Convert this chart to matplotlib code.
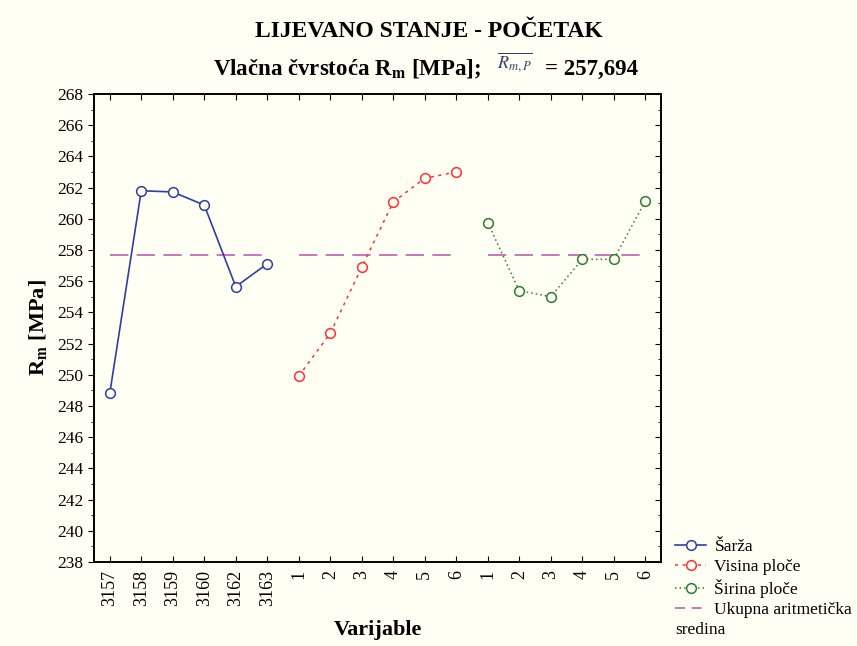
"""Line plot of tensile strength Rm per variable group with the overall mean."""

import matplotlib
matplotlib.use("Agg")
import matplotlib.pyplot as plt
from matplotlib.lines import Line2D
from matplotlib.ticker import MultipleLocator

plt.rcParams["font.family"] = ["Liberation Serif", "DejaVu Serif"]
plt.rcParams["mathtext.fontset"] = "stix"

BG = "#fffff4"
MEAN_COLOR = "#c060b0"

SARZA_LABELS = ["3157", "3158", "3159", "3160", "3162", "3163"]
SARZA = [248.81, 261.80, 261.72, 260.88, 255.65, 257.12]

VISINA_LABELS = ["1", "2", "3", "4", "5", "6"]
VISINA = [249.92, 252.66, 256.90, 261.08, 262.60, 263.00]

SIRINA_LABELS = ["1", "2", "3", "4", "5", "6"]
SIRINA = [259.75, 255.39, 255.01, 257.40, 257.40, 261.14]

GRAND_MEAN = 257.694

groups = [
    ("Šarža", SARZA_LABELS, SARZA, "#2f3fa0", "-", 1.2),
    ("Visina ploče", VISINA_LABELS, VISINA, "#ff3030", (0, (2, 3)), 1.1),
    ("Širina ploče", SIRINA_LABELS, SIRINA, "#2e7d32", (0, (1, 2)), 1.1),
]

fig = plt.figure(figsize=(8.57, 6.46), dpi=100, facecolor=BG)
ax = fig.add_axes([0.1097, 0.130, 0.6616, 0.7245], facecolor=BG)

tick_labels = []
handles = []
start = 0
for name, labels, values, color, ls, lw in groups:
    xs = list(range(start, start + len(values)))
    h, = ax.plot(xs, values, color=color, linestyle=ls, linewidth=lw,
                 marker="o", markersize=7, markerfacecolor=BG,
                 markeredgecolor=color, markeredgewidth=1.1, zorder=3)
    handles.append(h)
    ax.plot([xs[0], xs[-1]], [GRAND_MEAN, GRAND_MEAN], color=MEAN_COLOR,
            linestyle=(0, (11, 5)), linewidth=1.2, zorder=2)
    tick_labels += labels
    start += len(values)

# shorter dashes so the legend sample shows two of them
handles.append(Line2D([], [], color=MEAN_COLOR, linestyle=(0, (6, 4)), linewidth=1.2))

ax.set_xlim(-0.5, start - 0.5)
ax.set_ylim(238, 268)
ax.set_xticks(range(start))
ax.set_xticklabels(tick_labels, rotation=90, fontsize=13)
ax.yaxis.set_major_locator(MultipleLocator(2))
ax.yaxis.set_minor_locator(MultipleLocator(1))
ax.tick_params(axis="y", which="major", direction="out", length=4, labelsize=12.5)
ax.tick_params(axis="y", which="minor", direction="out", length=2)
ax.tick_params(axis="x", direction="in", length=4, top=True, pad=6)

# right-hand spine carries inward ticks without labels
rax = ax.twinx()
rax.set_ylim(ax.get_ylim())
rax.yaxis.set_major_locator(MultipleLocator(2))
rax.yaxis.set_minor_locator(MultipleLocator(1))
rax.tick_params(axis="y", which="major", direction="in", length=4, labelright=False)
rax.tick_params(axis="y", which="minor", direction="in", length=2)

for a in (ax, rax):
    for sp in a.spines.values():
        sp.set_linewidth(1.2)

ax.set_xlabel("Varijable", fontsize=16, fontweight="bold", labelpad=10)
ax.set_ylabel(r"R$_\mathbf{m}$ [MPa]", fontsize=16, fontweight="bold", labelpad=6)

fig.text(0.5, 0.951, "LIJEVANO STANJE - POČETAK", ha="center", va="center",
         fontsize=17, fontweight="bold")

# subtitle assembled from three pieces: label, raised mean symbol, value
sub_y = 0.893
fig.text(213 / 857, sub_y, r"Vlačna čvrstoća R$_\mathbf{m}$ [MPa];",
         ha="left", va="center", fontsize=16.5, fontweight="bold")
fig.text(497 / 857, sub_y + 0.011, r"$\overline{R_{m,P}}$",
         ha="left", va="center", fontsize=13, color="#34406e")
fig.text(545 / 857, sub_y, "= 257,694",
         ha="left", va="center", fontsize=16.5, fontweight="bold")

fig.legend(handles,
           ["Šarža", "Visina ploče", "Širina ploče", "Ukupna aritmetička"],
           loc="upper left", bbox_to_anchor=(0.788, 0.166), frameon=False,
           fontsize=12.5, handlelength=1.75, handletextpad=0.5,
           labelspacing=0.22, borderaxespad=0, borderpad=0)
fig.text(0.788, 0.024, "sredina", fontsize=12.5, ha="left", va="center")

fig.savefig("out.png", dpi=100, facecolor=BG)
